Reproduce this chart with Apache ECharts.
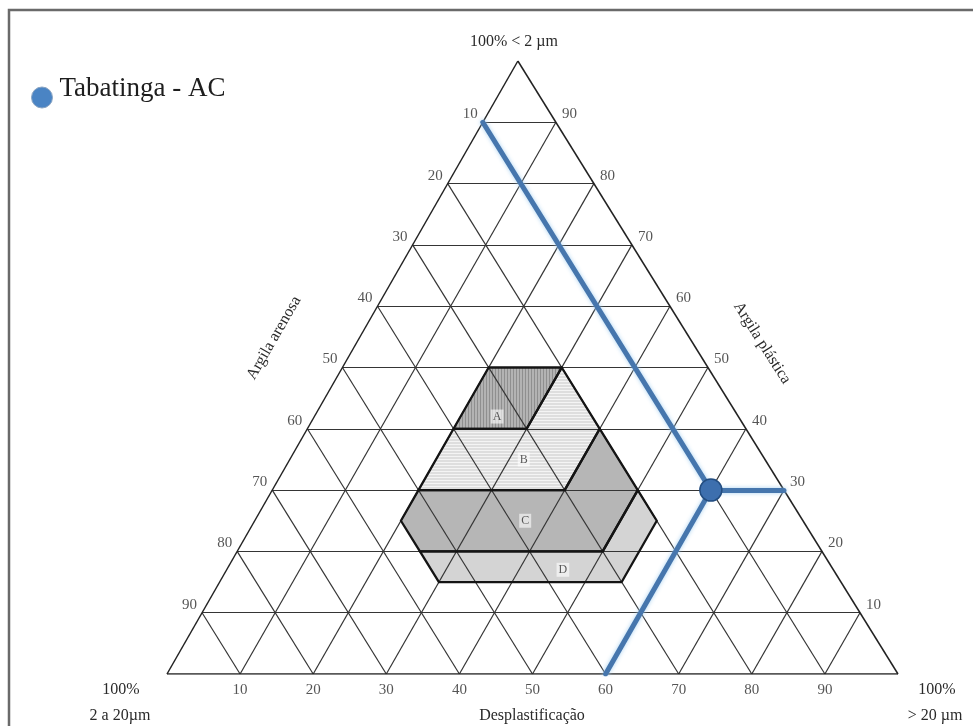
<!DOCTYPE html>
<html>
<head>
<meta charset="utf-8">
<script src="https://cdn.jsdelivr.net/npm/echarts@6/dist/echarts.min.js"></script>
<style>
  html, body { margin: 0; padding: 0; background: #ffffff; }
  #chart { width: 973px; height: 726px; }
</style>
</head>
<body>
<div id="chart"></div>
<script>
// Compositions are [clay (<2 µm), silt (2 a 20 µm), sand (>20 µm)] in percent.
const gridSteps = [10, 20, 30, 40, 50, 60, 70, 80, 90];
const leftTicks = [10, 20, 30, 40, 50, 60, 70, 80, 90];    // silt %, left edge, top to bottom
const rightTicks = [90, 80, 70, 60, 50, 40, 30, 20, 10];   // clay %, right edge, top to bottom
const bottomTicks = [10, 20, 30, 40, 50, 60, 70, 80, 90];  // sand %, base, left to right

const sampleName = 'Tabatinga - AC';
const sample = [30, 10, 60];

// Winkler zones
const zoneA = [[50, 30, 20], [50, 20, 30], [40, 30, 30], [40, 40, 20]];
const zoneB = [[50, 20, 30], [40, 20, 40], [30, 30, 40], [30, 50, 20], [40, 40, 20], [40, 30, 30]];
const zoneC = [[40, 20, 40], [30, 20, 50], [20, 30, 50], [20, 55, 25], [25, 55, 20], [30, 50, 20], [30, 30, 40]];
const zoneD = [[30, 20, 50], [25, 20, 55], [15, 30, 55], [15, 55, 30], [20, 55, 25], [20, 30, 50]];
const zoneLetters = ['A', 'B', 'C', 'D'];
const zoneLetterAt = [[42, 33, 25], [35, 33, 32], [25, 38, 37], [17, 37, 46]];

// slight lean of the printed triangle (apex sits a little left of centre)
const SKEW = -0.02;
function toXY(c) { return [c[2] + c[0] * (0.5 + SKEW), c[0]]; }

const SERIF = '"Liberation Serif", "DejaVu Serif", serif';
const INK = '#2a2a2a';

function makePattern(w, h, bg, line, vertical) {
  const cv = document.createElement('canvas');
  cv.width = w; cv.height = h;
  const g = cv.getContext('2d');
  g.fillStyle = bg; g.fillRect(0, 0, w, h);
  g.fillStyle = line;
  if (vertical) g.fillRect(0, 0, 1, h); else g.fillRect(0, 0, w, 1);
  return { image: cv, repeat: 'repeat' };
}
const zoneFills = [
  makePattern(3, 3, '#b3b3b3', '#8f8f8f', true),
  makePattern(3, 3, '#dedede', '#f4f4f4', false),
  '#b6b6b6',
  '#d4d4d4'
];
const zones = [zoneA, zoneB, zoneC, zoneD];

// triangular grid
const gridSegs = [];
gridSteps.forEach(p => {
  gridSegs.push({ coords: [toXY([p, 100 - p, 0]), toXY([p, 0, 100 - p])] });  // constant clay
  gridSegs.push({ coords: [toXY([0, 100 - p, p]), toXY([100 - p, 0, p])] });  // constant sand
  gridSegs.push({ coords: [toXY([0, p, 100 - p]), toXY([100 - p, p, 0])] });  // constant silt
});
const frameSegs = [
  { coords: [toXY([0, 100, 0]), toXY([0, 0, 100])] },
  { coords: [toXY([0, 0, 100]), toXY([100, 0, 0])] },
  { coords: [toXY([100, 0, 0]), toXY([0, 100, 0])] }
];

// reading guides through the sample
const guideSegs = [
  { coords: [toXY([100 - sample[1], sample[1], 0]), toXY(sample)] },
  { coords: [toXY(sample), toXY([sample[0], 0, 100 - sample[0]])] },
  { coords: [toXY(sample), toXY([0, 100 - sample[2], sample[2]])] }
];

const tickLabel = { show: true, color: INK, fontFamily: SERIF, fontSize: 15, formatter: p => p.value[2] };

function title(x, y, text, rotation) {
  return { type: 'text', x: x, y: y, rotation: rotation || 0,
           style: { text: text, font: '16px ' + SERIF, fill: INK, align: 'center', verticalAlign: 'middle' } };
}

const chart = echarts.init(document.getElementById('chart'), null, { renderer: 'canvas' });
chart.setOption({
  animation: false,
  backgroundColor: '#ffffff',
  grid: { left: 167, right: 75, top: 61, bottom: 52 },
  xAxis: { type: 'value', min: 0, max: 100, show: false },
  yAxis: { type: 'value', min: 0, max: 100, show: false },
  legend: {
    data: [{ name: sampleName, icon: 'circle', itemStyle: { color: '#4a84c4', borderColor: '#8aa4c2', borderWidth: 1 } }],
    left: 31, top: 75, padding: 0,
    itemWidth: 21, itemHeight: 21,
    formatter: '{t|{name}}',
    textStyle: { rich: { t: { fontFamily: SERIF, fontSize: 27, color: '#1e1e1e', padding: [0, 0, 18, 2] } } }
  },
  graphic: [
    { type: 'rect', shape: { x: 9, y: 10, width: 990, height: 740 }, style: { fill: 'none', stroke: '#6a6a6a', lineWidth: 2.5 }, z: 100 },
    title(514, 42, '100% < 2 µm'),
    title(121, 690, '100%'),
    title(120, 716, '2 a 20µm'),
    title(937, 690, '100%'),
    title(935, 716, '> 20 µm'),
    title(532, 716, 'Desplastificação'),
    title(274, 338, 'Argila arenosa', Math.PI / 3),
    title(762, 343, 'Argila plástica', -Math.PI * 0.32)
  ],
  series: [
    {
      type: 'custom', z: 1, silent: true,
      data: zones.map((z, i) => [i]),
      renderItem: (params, api) => {
        const i = api.value(0);
        return { type: 'polygon', shape: { points: zones[i].map(c => api.coord(toXY(c))) }, style: { fill: zoneFills[i], stroke: null } };
      }
    },
    { type: 'lines', coordinateSystem: 'cartesian2d', z: 2, silent: true, data: gridSegs,
      lineStyle: { color: '#353535', width: 1.2, opacity: 1 } },
    { type: 'lines', coordinateSystem: 'cartesian2d', z: 2, silent: true, data: frameSegs,
      lineStyle: { color: '#222222', width: 1.5, opacity: 1 } },
    {
      type: 'custom', z: 3, silent: true,
      data: zones.map((z, i) => [i]),
      renderItem: (params, api) => {
        const i = api.value(0);
        return { type: 'polygon', shape: { points: zones[i].map(c => api.coord(toXY(c))) }, style: { fill: null, stroke: '#141414', lineWidth: 2.3, lineJoin: 'round' } };
      }
    },
    { type: 'scatter', z: 4, silent: true, symbolSize: 0,
      data: leftTicks.map(t => toXY([100 - t, t, 0]).concat(t)),
      label: Object.assign({ position: 'left', distance: 5, offset: [0, -8] }, tickLabel) },
    { type: 'scatter', z: 4, silent: true, symbolSize: 0,
      data: rightTicks.map(t => toXY([t, 0, 100 - t]).concat(t)),
      label: Object.assign({ position: 'right', distance: 6, offset: [0, -8] }, tickLabel) },
    { type: 'scatter', z: 4, silent: true, symbolSize: 0,
      data: bottomTicks.map(t => toXY([0, 100 - t, t]).concat(t)),
      label: Object.assign({ position: 'bottom', distance: 9 }, tickLabel) },
    { type: 'scatter', z: 4, silent: true, symbolSize: 0,
      data: zoneLetters.map((l, i) => toXY(zoneLetterAt[i]).concat(l)),
      label: { show: true, position: 'inside', formatter: p => p.value[2], fontFamily: SERIF, fontSize: 12, color: '#333',
               backgroundColor: 'rgba(255,255,255,0.75)', padding: [1, 2] } },
    { type: 'lines', coordinateSystem: 'cartesian2d', z: 5, silent: true, data: guideSegs,
      lineStyle: { color: '#4676ad', width: 5, opacity: 1, cap: 'round', shadowColor: 'rgba(160,205,240,0.9)', shadowBlur: 4 } },
    { type: 'scatter', name: sampleName, z: 6, symbol: 'circle', symbolSize: 22,
      data: [toXY(sample)],
      itemStyle: { color: '#3d6fae', borderColor: '#234d80', borderWidth: 1.5, opacity: 1 } }
  ]
});
</script>
</body>
</html>
